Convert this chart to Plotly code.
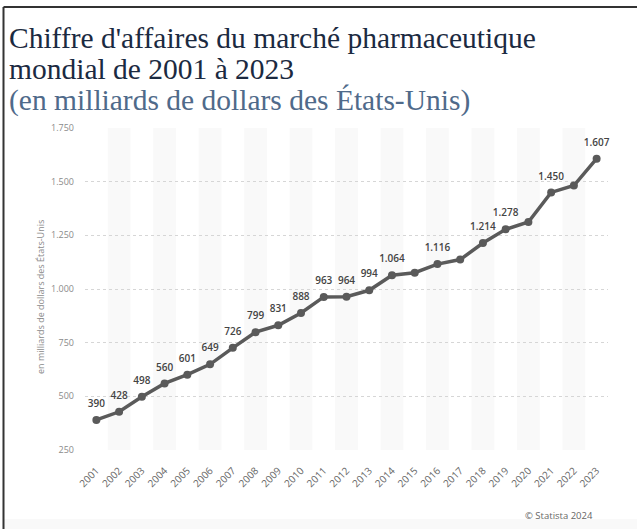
import plotly.graph_objects as go

years = [str(y) for y in range(2001, 2024)]
revenue = [390, 428, 498, 560, 601, 649, 726, 799, 831, 888, 963, 964, 994,
           1064, 1076, 1116, 1137, 1214, 1278, 1312, 1450, 1482, 1607]
labeled = [True] * 14 + [False, True, False, True, True, False, True, False, True]
y_ticks = [250, 500, 750, 1000, 1250, 1500, 1750]

title_lines = ["Chiffre d'affaires du marché pharmaceutique", "mondial de 2001 à 2023"]
subtitle = "(en milliards de dollars des États-Unis)"
y_title = "en milliards de dollars des États-Unis"
source = "© Statista 2024"

W, H = 637, 529
L, R, T, B = 85, 29, 128, 79
PW, PH = W - L - R, H - T - B


def px(x):
    return (x - L) / PW


def py(y):
    return (H - B - y) / PH


def fmt(v):
    return f"{v:,}".replace(",", ".")


texts = [fmt(v) if s else "" for v, s in zip(revenue, labeled)]

fig = go.Figure()
fig.add_trace(go.Scatter(
    x=years, y=revenue, mode="lines+markers",
    line=dict(color="#5a5a5a", width=3.5),
    marker=dict(color="#5a5a5a", size=8),
    cliponaxis=False, hoverinfo="skip", showlegend=False,
))
fig.add_trace(go.Scatter(
    x=years, y=revenue, mode="markers+text",
    text=texts, textposition="top center",
    textfont=dict(family="Open Sans", size=10, color="#444444", weight=600),
    marker=dict(color="rgba(0,0,0,0)", size=15),
    cliponaxis=False, hoverinfo="skip", showlegend=False,
))

shapes = []
for i in range(len(years)):
    if i % 2 == 1:
        shapes.append(dict(type="rect", xref="x", yref="paper", x0=i - 0.5, x1=i + 0.5,
                           y0=0, y1=1, fillcolor="#f9f9f9", line=dict(width=0), layer="below"))
# faint bottom strip
shapes.append(dict(type="rect", xref="paper", yref="paper", x0=px(4), x1=px(W), y0=py(529), y1=py(519),
                   fillcolor="#f9f9f9", line=dict(width=0), layer="below"))
# frame lines
shapes.append(dict(type="line", xref="paper", yref="paper", x0=px(3.5), x1=px(W), y0=py(7), y1=py(7),
                   line=dict(color="#333333", width=2)))
shapes.append(dict(type="line", xref="paper", yref="paper", x0=px(3.5), x1=px(3.5), y0=py(7), y1=py(H),
                   line=dict(color="#333333", width=2)))

annotations = []
for line, yc in zip(title_lines, [38, 69]):
    annotations.append(dict(text=line, xref="paper", yref="paper", x=px(7), y=py(yc),
                            xanchor="left", yanchor="middle", showarrow=False,
                            font=dict(family="Liberation Serif", size=29.5, color="#1b2a41")))
annotations += [
    dict(text=subtitle, xref="paper", yref="paper", x=px(7), y=py(100), xanchor="left", yanchor="middle",
         showarrow=False, font=dict(family="Liberation Serif", size=29.5, color="#4f6a8a")),
    dict(text=y_title, xref="paper", yref="paper", x=px(40), y=py(297), xanchor="center", yanchor="middle",
         textangle=-90, showarrow=False,
         font=dict(family="Open Sans", size=9, color="#8a8a8a")),
    dict(text=source, xref="paper", yref="paper", x=px(523), y=py(515), xanchor="left", yanchor="middle",
         showarrow=False, font=dict(family="Open Sans", size=9.5, color="#666666")),
]

fig.update_layout(
    width=W, height=H, autosize=False,
    margin=dict(l=L, r=R, t=T, b=B, pad=0),
    paper_bgcolor="white", plot_bgcolor="white",
    separators=",.",
    shapes=shapes, annotations=annotations,
    xaxis=dict(type="category", categoryorder="array", categoryarray=years,
               range=[-0.5, len(years) - 0.5], tickangle=-45,
               tickfont=dict(family="Open Sans", size=10, color="#666666"),
               showgrid=False, showline=False, zeroline=False, ticks="", ticklabelstandoff=12),
    yaxis=dict(range=[250, 1750], tickvals=y_ticks, tickformat=",d",
               tickfont=dict(family="Open Sans", size=9, color="#8a8a8a"),
               showgrid=True, gridcolor="#d6d6d6", griddash="dot", gridwidth=1,
               zeroline=False, showline=False, ticks="", ticklabelstandoff=10),
)

fig.write_html("out.html", config={"displayModeBar": False},
               post_script="document.body.style.margin='0';")
